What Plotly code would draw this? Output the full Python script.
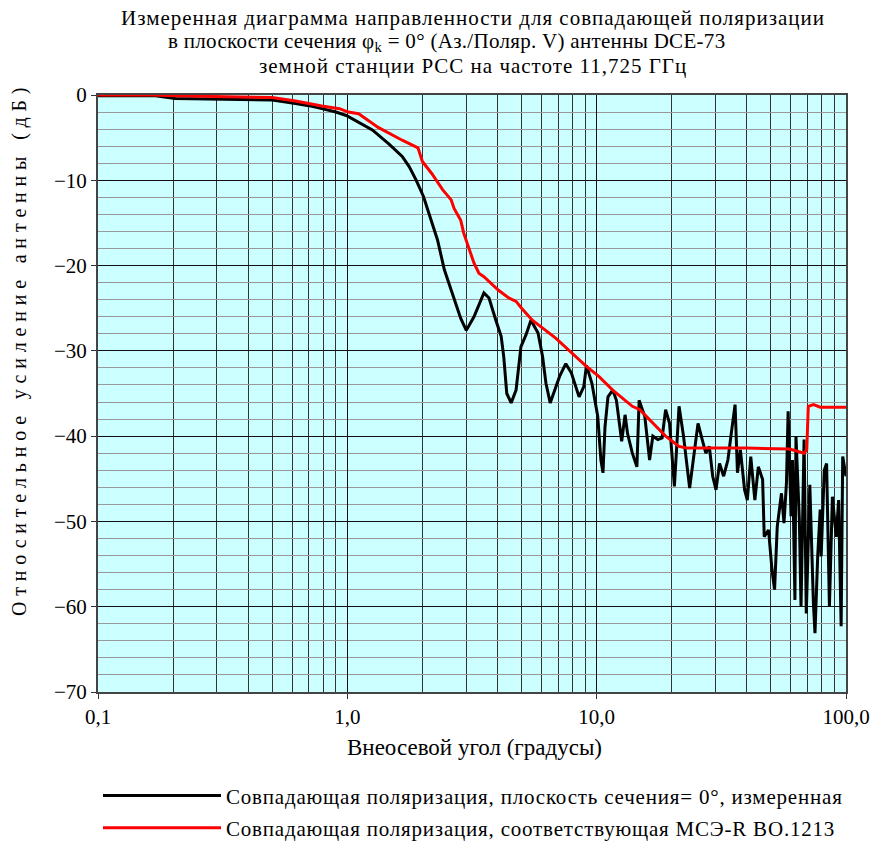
import plotly.graph_objects as go

# Measured co-polar pattern (black)
meas_angle = [0.1, 0.17, 0.204, 0.3, 0.4, 0.5, 0.62, 0.7, 0.79, 0.9, 0.99, 1.11, 1.26, 1.47, 1.66, 1.77, 1.89,
              2.02, 2.13, 2.30, 2.45, 2.64, 2.85, 3.0, 3.22, 3.53, 3.70, 3.95, 4.14, 4.24, 4.36, 4.54,
              4.75, 4.97, 5.21, 5.45, 5.82, 6.07, 6.26, 6.51, 6.78, 7.10, 7.52, 7.92, 8.50, 8.88, 9.10,
              9.57, 10.1, 10.4, 10.6, 10.8, 11.1, 11.6, 12.0, 12.3, 12.6, 13.0, 13.3, 13.9, 14.5, 14.8,
              15.6, 16.3, 16.8, 17.6, 18.3, 18.9, 19.6, 20.5, 21.4, 22.3, 23.6, 24.6, 25.5, 26.5, 27.4,
              28.3, 29.2, 30.1, 31.1, 32.3, 33.6, 34.8, 35.9, 36.7, 37.7, 39.2, 40.2, 41.5, 43.1, 44.5,
              46.3, 47.0, 48.9, 50.5, 51.7, 53.0, 55.1, 56.4, 57.7, 58.6, 60.2, 61.0, 62.4, 63.0, 65.0,
              66.0, 67.9, 69.3, 71.6, 74.0, 75.1, 77.0, 78.8, 79.5, 81.8, 83.6, 85.8, 88.2, 91.4, 93.4,
              95.6, 97.0, 100.0]
meas_gain = [-0.1, -0.1, -0.4, -0.5, -0.5, -0.6, -1.0, -1.25, -1.6, -2.0, -2.4, -3.2, -4.1, -5.75, -7.2, -8.4, -10.0,
             -11.9, -13.9, -17.0, -20.5, -23.2, -26.2, -27.6, -26.0, -23.2, -23.8, -26.5, -28.3, -30.7, -35.0, -36.1,
             -34.6, -29.5, -28.1, -26.4, -27.9, -30.7, -33.8, -36.1, -34.6, -33.0, -31.5, -32.6, -35.4, -34.2, -31.7,
             -33.8, -37.7, -42.8, -44.3, -38.9, -35.4, -34.6, -35.8, -38.5, -40.6, -37.5, -39.7, -42.0, -43.6, -35.8,
             -37.7, -42.8, -40.0, -40.4, -40.2, -36.9, -38.5, -45.9, -36.5, -40.0, -46.1, -42.0, -38.5, -40.4, -42.0,
             -41.2, -44.7, -46.3, -43.2, -44.7, -42.8, -39.3, -36.3, -44.3, -41.6, -46.3, -47.5, -42.4, -47.5, -43.6,
             -45.1, -51.8, -51.0, -55.7, -58.0, -50.6, -46.7, -50.2, -45.5, -37.1, -49.4, -42.8, -59.2, -40.0, -49.8,
             -60.0, -40.4, -60.8, -45.7, -59.6, -63.1, -54.1, -48.6, -54.1, -44.0, -43.2, -60.0, -47.1, -51.8, -47.5,
             -62.3, -42.4, -44.7]

# Reference pattern per ITU-R BO.1213 (red)
ref_angle = [0.1, 0.165, 0.204, 0.3, 0.5, 0.62, 0.79, 0.93, 1.01, 1.11, 1.33, 1.66, 1.92, 2.0, 2.18, 2.41, 2.61,
             2.68, 2.85, 2.93, 3.1, 3.22, 3.37, 3.53, 4.04, 4.44, 4.75, 5.0, 5.52, 6.28, 6.85, 9.07, 10.2, 11.6,
             13.9, 14.9, 18.9, 21.4, 22.9, 40.0, 59.4, 67.9, 69.6, 70.6, 74.1, 78.8, 100.0]
ref_gain = [0.0, 0.0, -0.1, -0.2, -0.3, -0.7, -1.3, -1.6, -2.0, -2.2, -3.8, -5.3, -6.2, -7.8, -9.2, -11.1, -12.3,
            -13.3, -14.7, -16.2, -18.2, -19.7, -20.9, -21.3, -22.9, -23.8, -24.2, -25.0, -26.4, -27.6, -28.5, -31.8,
            -33.0, -34.6, -36.5, -36.9, -40.0, -41.2, -41.4, -41.4, -41.5, -42.0, -41.6, -36.5, -36.3, -36.6, -36.6]

x_tickvals = [0.1, 1, 10, 100]
x_ticktext = ["0,1", "1,0", "10,0", "100,0"]
y_tickvals = [0, -10, -20, -30, -40, -50, -60, -70]
y_ticktext = ["0", "\u221210", "\u221220", "\u221230", "\u221240", "\u221250", "\u221260", "\u221270"]

title_lines = [
    "Измеренная диаграмма направленности для совпадающей поляризации",
    "в плоскости сечения φ<sub>k</sub> = 0° (Аз./Поляр. V) антенны DCE-73",
    "земной станции РСС на частоте 11,725 ГГц",
]
name_meas = "Совпадающая поляризация, плоскость сечения= 0°, измеренная"
name_ref = "Совпадающая поляризация, соответствующая МСЭ-R BO.1213"
x_title = "Внеосевой угол (градусы)"
y_title = "Относительное усиление антенны (дБ)"

FONT = "Liberation Serif"


def spaced(s, px):
    return '<span style="letter-spacing:%spx">%s</span>' % (px, s)


fig = go.Figure()
fig.add_trace(go.Scatter(
    x=meas_angle, y=meas_gain, mode="lines",
    line=dict(color="#000000", width=3),
    name=spaced(name_meas, 0.8), legend="legend"))
fig.add_trace(go.Scatter(
    x=ref_angle, y=ref_gain, mode="lines",
    line=dict(color="#ff0000", width=3),
    name=spaced(name_ref, 0.8), legend="legend2"))

title_x = [0.501, 0.466, 0.501]
title_y = [1.129, 1.089, 1.0486]
title_sp = [1.0, 0.3, 1.0]
annotations = []
for t, tx, ty, sp in zip(title_lines, title_x, title_y, title_sp):
    annotations.append(dict(text=spaced(t, sp), xref="paper", yref="paper", x=tx, y=ty,
                            xanchor="center", yanchor="middle", showarrow=False,
                            font=dict(family=FONT, size=21)))
annotations.append(dict(text=spaced(y_title, 5.8), textangle=-90,
                        xref="paper", yref="paper", x=-0.104, y=0.575,
                        xanchor="center", yanchor="middle", showarrow=False,
                        font=dict(family=FONT, size=20)))
annotations.append(dict(text=x_title, xref="paper", yref="paper", x=0.503, y=-0.0935,
                        xanchor="center", yanchor="middle", showarrow=False,
                        font=dict(family=FONT, size=23)))

fig.update_layout(
    width=877, height=843,
    margin=dict(l=98, r=31, t=95, b=151, autoexpand=False),
    paper_bgcolor="white",
    plot_bgcolor="#ccffff",
    font=dict(family=FONT, size=20, color="#000"),
    showlegend=True,
    xaxis=dict(
        type="log", range=[-1, 2],
        tickvals=x_tickvals, ticktext=x_ticktext,
        tickfont=dict(family=FONT, size=21),
        showgrid=True, gridcolor="#111", gridwidth=1,
        minor=dict(dtick="D1", showgrid=True, gridcolor="#333", gridwidth=1),
        ticks="outside", ticklen=5, tickcolor="#333",
        showline=True, linecolor="#444", linewidth=2, mirror=True,
        zeroline=False,
    ),
    yaxis=dict(
        range=[-70, 0],
        tickvals=y_tickvals, ticktext=y_ticktext,
        tickfont=dict(family=FONT, size=21),
        showgrid=True, gridcolor="#111", gridwidth=1,
        minor=dict(dtick=2, showgrid=True, gridcolor="#999", gridwidth=1),
        ticks="outside", ticklen=5, tickcolor="#333",
        showline=True, linecolor="#444", linewidth=2, mirror=True,
        zeroline=False,
    ),
    legend=dict(x=0.0, xanchor="left", y=-0.174, yanchor="middle", bgcolor="rgba(0,0,0,0)",
                itemwidth=118, font=dict(family=FONT, size=21)),
    legend2=dict(x=0.0, xanchor="left", y=-0.228, yanchor="middle", bgcolor="rgba(0,0,0,0)",
                 itemwidth=118, font=dict(family=FONT, size=21)),
    annotations=annotations,
)

fig.write_html("out.html", config={"displayModeBar": False},
               post_script="document.body.style.margin='0px';")
